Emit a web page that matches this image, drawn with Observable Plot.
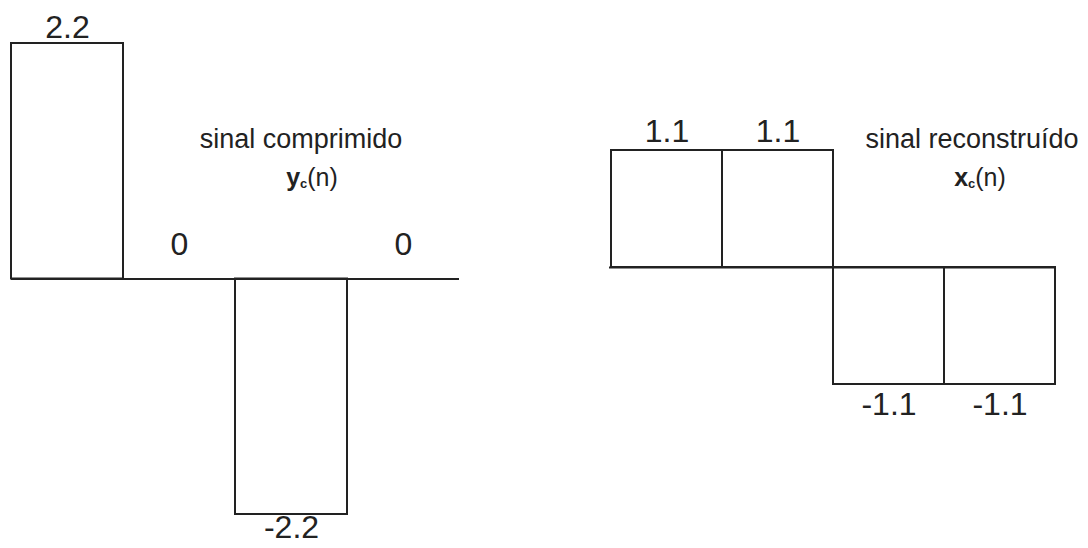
<!DOCTYPE html>
<html>
<head>
<meta charset="utf-8">
<script src="https://cdn.jsdelivr.net/npm/d3@7"></script>
<script src="https://cdn.jsdelivr.net/npm/@observablehq/plot@0.6"></script>
<style>
  html, body { margin: 0; padding: 0; background: #fff; }
  #wrap { position: relative; width: 1088px; height: 548px; overflow: hidden; font-family: "Liberation Sans", Arial, sans-serif; color: #222; }
  #wrap > svg { position: absolute; left: 0; top: 0; }
  .title { position: absolute; width: 300px; text-align: center; font-size: 27px; line-height: 1; white-space: nowrap; }
  .sym { position: absolute; width: 200px; text-align: center; font-size: 25px; line-height: 1; white-space: nowrap; }
  .sym b { font-weight: bold; }
  .sym sub { font-size: 13px; font-weight: bold; vertical-align: -2px; }
</style>
</head>
<body>
<div id="wrap"></div>
<script>
// Left panel: compressed signal y_c(n)
const nComp = [0, 1, 2, 3];
const ycValues = [2.2, 0, -2.2, 0];
// Right panel: reconstructed signal x_c(n)
const nRec = [0, 1, 2, 3];
const xcValues = [1.1, 1.1, -1.1, -1.1];

const titleLeft = "sinal comprimido";
const titleRight = "sinal reconstruído";

const comp = nComp.map((n, i) => ({n, v: ycValues[i]}));
const rec = nRec.map((n, i) => ({n, v: xcValues[i]}));

const ink = "#222";
const numFont = 32;

function panel(data, yDomain, m, offs) {
  return Plot.plot({
    width: 1088,
    height: 548,
    marginLeft: m.left, marginRight: m.right, marginTop: m.top, marginBottom: m.bottom,
    style: {fontFamily: "'Liberation Sans', Arial, sans-serif", background: "transparent", overflow: "visible"},
    x: {type: "band", domain: data.map(d => d.n), padding: 0, axis: null},
    y: {domain: yDomain, axis: null},
    marks: [
      Plot.barY(data.filter(d => d.v !== 0), {x: "n", y1: () => 0, y2: "v", fill: "none", stroke: ink, strokeWidth: 2}),
      Plot.ruleY([0], {stroke: ink, strokeWidth: 2}),
      Plot.text(data.filter(d => d.v > 0), {x: "n", y: "v", text: d => String(d.v), dy: offs.pos, fontSize: numFont, fill: ink}),
      Plot.text(data.filter(d => d.v === 0), {x: "n", y: "v", text: d => String(d.v), dy: offs.zero, fontSize: numFont, fill: ink}),
      Plot.text(data.filter(d => d.v < 0), {x: "n", y: "v", text: d => String(d.v), dy: offs.neg, fontSize: numFont, fill: ink})
    ]
  });
}

const wrap = document.getElementById("wrap");
wrap.appendChild(panel(comp, [-2.2, 2.2], {left: 11, right: 629, top: 43, bottom: 34}, {pos: -16, zero: -34, neg: 13}));
wrap.appendChild(panel(rec, [-1.1, 1.1], {left: 609, right: 32, top: 150, bottom: 164}, {pos: -19, zero: -35, neg: 20}));

function addDiv(cls, html, cx, top, w) {
  const d = document.createElement("div");
  d.className = cls;
  d.innerHTML = html;
  d.style.left = (cx - w / 2) + "px";
  d.style.top = top + "px";
  wrap.appendChild(d);
}
addDiv("title", titleLeft, 301, 126, 300);
addDiv("title", titleRight, 972, 126, 300);
addDiv("sym", "<b>y</b><sub>c</sub>(n)", 312, 165, 200);
addDiv("sym", "<b>x</b><sub>c</sub>(n)", 980, 165, 200);
</script>
</body>
</html>
